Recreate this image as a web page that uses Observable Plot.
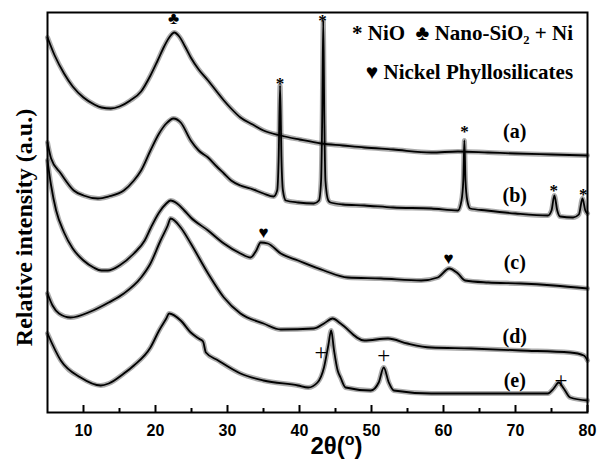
<!DOCTYPE html>
<html><head><meta charset="utf-8">
<script src="https://cdn.jsdelivr.net/npm/d3@7"></script>
<script src="https://cdn.jsdelivr.net/npm/@observablehq/plot@0.6"></script>
<style>body{margin:0;background:#fff}</style>
</head><body><div id="chart"></div>
<script>
// [2θ (deg), relative intensity (a.u., stacked offset)]
const curveA = [[5,375],[6,357],[7.3,339],[8.5,326],[10,315],[11.5,308],[12.5,305],[13.8,304],[15,306],[16.5,312],[18,321],[19.3,337],[20.3,352],[21.2,366],[22,376],[22.6,380],[23.3,376],[24.1,366],[24.9,355],[26,343],[27.3,332],[28.5,321],[29.5,312],[30.5,304],[31.8,295],[33.5,288],[35,282],[37.4,277],[40,273],[43,269],[46,267],[49,265],[53,263],[58.3,260],[62,261],[66.2,260],[70,259],[75,258],[80,257]];
const curveB = [[5,270],[5.5,254],[6.85,239],[8.65,222],[10,217],[12,214],[13.5,216],[15.6,222],[17,232],[18,242],[19.3,262],[20.5,279],[21.5,289],[22.5,294],[23.5,290],[24.9,272],[26,262],[27.3,255],[28.5,246],[29.5,239],[30.5,232],[31.8,227],[33.2,224],[35,219],[36.4,216],[36.9,222],[37.1,252],[37.3,327],[37.5,252],[37.7,222],[38.1,212],[39.8,210],[42,209],[42.7,212],[43.0,232],[43.15,292],[43.3,392],[43.45,292],[43.6,232],[44.0,212],[44.3,210],[46,208],[49,207],[53,205],[58.3,204],[62,202],[62.5,212],[62.75,232],[62.9,272],[63.05,232],[63.3,212],[63.7,204],[66,202],[70,199],[74.5,197],[75.0,202],[75.4,217],[75.8,202],[76.2,196],[78,195],[78.8,198],[79.3,214],[79.7,202],[80,199]];
const curveC = [[5,252],[5.5,227],[6.2,202],[7.3,180],[8.5,164],[10,152],[11.4,145],[12.5,142],[13.4,142],[15,147],[17,159],[18.5,172],[19.3,184],[20.5,200],[21.5,209],[22.1,212],[23,209],[24,202],[24.9,195],[27.3,182],[29.5,169],[31.8,159],[33.2,155],[34,162],[34.6,170],[35.6,169],[37.4,159],[39.8,152],[43.4,142],[46.7,135],[51.3,134],[56.9,132],[59.2,135],[60.8,144],[62,139],[63,132],[66.2,130],[70.7,129],[75.3,127],[80,124]];
const curveD = [[5,119],[5.7,107],[6.6,99],[8.2,95],[11,101],[13.5,110],[15.6,119],[18,135],[19.3,149],[20.7,172],[21.7,187],[22.1,194],[23.5,185],[24.9,169],[27.3,139],[29.5,115],[31.8,99],[35,89],[37.4,83],[42,84],[43.4,89],[44.6,94],[45.7,89],[49,72],[52.3,74],[55,69],[58.3,65],[63.8,64],[70.7,62],[77.6,60],[79.5,57],[80,52]];
const curveE = [[5,79],[6.85,52],[9.6,35],[12.4,27],[13.5,29],[15.6,39],[17,47],[19.3,65],[20.5,82],[21.5,94],[21.9,99],[23.5,92],[24.9,80],[26.0,74],[26.6,71],[27.0,60],[28.7,52],[31.8,39],[35,32],[39.8,27],[41.2,25],[42.5,30],[43.4,45],[44.0,67],[44.4,82],[44.8,62],[45.3,42],[45.7,35],[46.4,25],[49.9,22],[51,30],[51.7,45],[52.4,30],[53.1,22],[58.3,19],[66.2,19],[74.5,19],[75.3,24],[76.0,30],[76.7,24],[77.6,15],[80,12]];

const sampleNames = ["(a)","(b)","(c)","(d)","(e)"];
const labelTheta = [69.9,69.9,69.9,69.9,69.9];
const labelIntensity = [281,217,150,76,32];

const markSymbols = ["♣","*","*","*","*","*","♥","♥","+","+","+"];
const markTheta = [22.5,37.3,43.2,62.9,75.3,79.4,35.0,60.7,43.0,51.7,76.3];
const markIntensity = [394,329,392,281,222,218,180,154,60,57,32];

const legendLines = ["* NiO  ♣ Nano-SiO₂ + Ni","♥ Nickel Phyllosilicates"];
const legendTheta = [78,78];
const legendIntensity = [379,340];

const xTicks = [10,20,30,40,50,60,70,80];
const xMinorTicks = [15,25,35,45,55,65,75];

const curves = [curveA,curveB,curveC,curveD,curveE];
const rows = curves.flatMap((c,i)=>c.map(([t,v])=>({theta:t,intensity:v,sample:sampleNames[i]})));
const labels = sampleNames.map((s,i)=>({text:s,theta:labelTheta[i],intensity:labelIntensity[i]}));
const peakMarks = markSymbols.map((s,i)=>({symbol:s,theta:markTheta[i],intensity:markIntensity[i]}));
const legend = legendLines.map((s,i)=>({text:s,theta:legendTheta[i],intensity:legendIntensity[i]}));

const serif = "'Liberation Serif','Times New Roman',serif";
const sans = "'Liberation Sans',Arial,sans-serif";

const chart = Plot.plot({
  width:600, height:468,
  marginLeft:47, marginRight:13, marginTop:12, marginBottom:56,
  x:{domain:[5,80]},
  y:{domain:[0,400], axis:null},
  style:{background:"#fff"},
  marks:[
    Plot.line(rows,{x:"theta",y:"intensity",z:"sample",curve:"monotone-x",stroke:"#666",strokeWidth:5,strokeOpacity:0.55}),
    Plot.line(rows,{x:"theta",y:"intensity",z:"sample",curve:"monotone-x",stroke:"#000",strokeWidth:1.8}),
    Plot.frame({stroke:"#000",strokeWidth:2}),
    Plot.ruleX(xTicks,{x:d=>d,y1:0,y2:7,stroke:"#000",strokeWidth:2}),
    Plot.ruleX(xMinorTicks,{x:d=>d,y1:0,y2:4,stroke:"#000",strokeWidth:2}),
    Plot.axisX(xTicks,{tickSize:0,tickPadding:12,fontSize:16,fontWeight:"bold",fontFamily:sans,fill:"#000",label:null}),
    Plot.text(labels,{x:"theta",y:"intensity",text:"text",fontSize:20,fontWeight:"bold",fontFamily:serif,fill:"#000"}),
    Plot.text(peakMarks.filter(d=>d.symbol!=="+"),{x:"theta",y:"intensity",text:"symbol",fontSize:17,fontWeight:"bold",fontFamily:serif,fill:"#000"}),
    Plot.text(peakMarks.filter(d=>d.symbol==="+"),{x:"theta",y:"intensity",text:"symbol",fontSize:23,fontWeight:"normal",fontFamily:serif,fill:"#000"}),
    Plot.text(legend,{x:"theta",y:"intensity",text:"text",textAnchor:"end",fontSize:21,fontWeight:"bold",fontFamily:serif,fill:"#000"}),
    Plot.text(["Relative intensity (a.u.)"],{frameAnchor:"left",textAnchor:"middle",rotate:-90,dx:-23,dy:15,fontSize:24,fontWeight:"bold",fontFamily:serif,fill:"#000"}),
    Plot.text(["2θ(°)"],{frameAnchor:"bottom",textAnchor:"middle",dx:19,dy:41,fontSize:24,fontWeight:"bold",fontFamily:sans,fill:"#000"})
  ]
});
document.getElementById("chart").appendChild(chart);
chart.querySelectorAll("text").forEach(t=>{
  if (t.textContent==="2θ(°)") t.innerHTML='2θ(<tspan dy="-9" font-size="16">o</tspan><tspan dy="9">)</tspan>';
});
</script>
</body></html>
